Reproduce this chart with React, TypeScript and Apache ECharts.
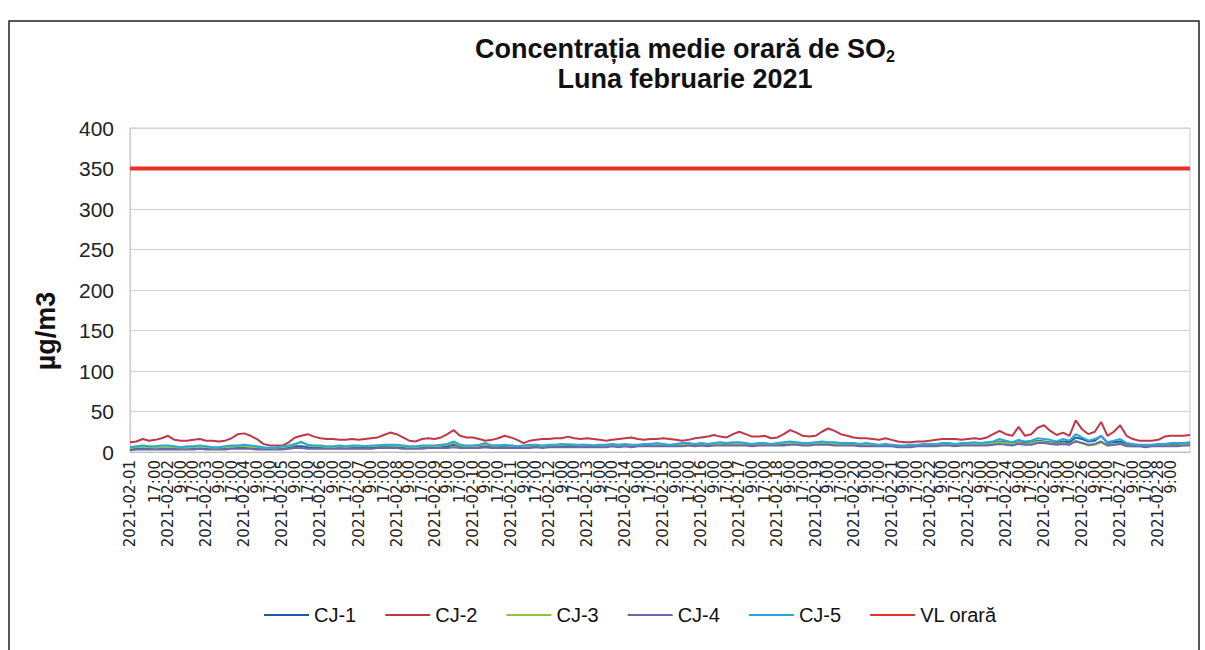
import React, { useEffect, useRef } from "react";
import * as echarts from "echarts";

// Time points: 28 days x 6 readings (every 4 hours)
const DAY_COUNT = 28;
const HOURS = ["1:00", "5:00", "9:00", "13:00", "17:00", "21:00"];
const VL_ORARA = 350;

// CJ-2 (µg/m3)
const CJ2 = [
  12, 13, 16, 14, 15, 17,
  20, 15, 14, 14, 15, 16,
  14, 14, 13, 14, 17, 22,
  23, 20, 16, 10, 8, 8,
  8, 12, 18, 20, 22, 19,
  17, 16, 16, 15, 15, 16,
  15, 16, 17, 18, 21, 24,
  22, 18, 14, 13, 16, 17,
  16, 18, 22, 27, 20, 18,
  18, 16, 14, 15, 17, 20,
  18, 15, 11, 14, 15, 16,
  16, 17, 17, 19, 17, 16,
  17, 16, 15, 14, 15, 16,
  17, 18, 16, 15, 16, 16,
  17, 16, 15, 14, 15, 17,
  18, 19, 21, 19, 18, 22,
  25, 22, 19, 19, 20, 17,
  18, 22, 27, 24, 20, 19,
  20, 25, 29, 26, 22, 20,
  18, 17, 17, 16, 15, 17,
  15, 13, 12, 12, 13, 13,
  14, 15, 16, 16, 16, 15,
  16, 17, 16, 18, 22, 26,
  22, 20, 31, 20, 22, 30,
  33, 26, 21, 24, 20, 39,
  28, 22, 25, 37, 20, 25,
  33, 20, 16, 14, 14, 14,
  15, 19, 20, 20, 20, 21,
];

// CJ-5
const CJ5 = [
  6, 7, 8, 7, 7, 8,
  8, 7, 6, 7, 7, 8,
  7, 6, 6, 7, 8, 8,
  9, 8, 7, 6, 5, 6,
  7, 8, 10, 12, 9, 8,
  8, 7, 7, 8, 7, 8,
  8, 7, 8, 8, 9, 9,
  9, 8, 7, 7, 8, 8,
  8, 9, 10, 13, 9, 8,
  8, 9, 11, 8, 8, 9,
  8, 7, 8, 9, 9, 8,
  9, 9, 10, 9, 9, 9,
  9, 8, 9, 9, 10, 9,
  10, 9, 9, 10, 10, 11,
  10, 9, 10, 11, 11, 10,
  11, 10, 11, 12, 11, 12,
  12, 11, 10, 11, 11, 10,
  11, 12, 13, 12, 11, 11,
  12, 13, 12, 12, 11, 11,
  11, 10, 11, 10, 9, 10,
  9, 8, 8, 9, 9, 10,
  10, 10, 11, 11, 10, 11,
  11, 12, 11, 12, 13, 16,
  14, 12, 15, 13, 14, 17,
  16, 15, 13, 16, 14, 22,
  18, 14, 16, 20, 12, 14,
  16, 11, 10, 9, 9, 9,
  10, 10, 11, 11, 11, 12,
];

// CJ-1
const CJ1 = [
  3, 4, 5, 5, 4, 5,
  5, 4, 4, 5, 5, 5,
  4, 4, 5, 5, 6, 6,
  6, 5, 5, 4, 4, 4,
  5, 6, 7, 7, 6, 6,
  5, 5, 5, 6, 5, 6,
  6, 5, 6, 6, 7, 6,
  6, 6, 5, 5, 6, 6,
  6, 6, 7, 9, 7, 6,
  6, 6, 7, 6, 6, 7,
  6, 5, 6, 6, 7, 6,
  7, 7, 7, 7, 7, 8,
  7, 7, 8, 8, 8, 8,
  8, 8, 8, 9, 9, 9,
  9, 8, 9, 9, 10, 9,
  9, 9, 10, 10, 10, 11,
  10, 10, 9, 10, 10, 9,
  10, 10, 11, 11, 10, 10,
  10, 11, 11, 10, 10, 9,
  9, 9, 9, 9, 8, 8,
  8, 7, 7, 7, 8, 8,
  8, 9, 9, 9, 9, 9,
  9, 9, 9, 10, 11, 13,
  12, 10, 12, 11, 12, 14,
  13, 12, 11, 13, 12, 18,
  16, 13, 14, 20, 11, 12,
  13, 9, 8, 8, 8, 8,
  8, 8, 9, 9, 9, 10,
];

// CJ-3
const CJ3 = [
  5, 6, 6, 6, 5, 6,
  6, 6, 5, 5, 6, 6,
  6, 5, 5, 6, 6, 7,
  7, 6, 6, 5, 5, 5,
  6, 7, 9, 13, 8, 7,
  7, 6, 6, 7, 6, 7,
  7, 7, 7, 8, 8, 8,
  8, 7, 6, 6, 7, 7,
  7, 8, 9, 11, 8, 7,
  7, 8, 9, 8, 8, 8,
  8, 7, 7, 8, 8, 7,
  8, 8, 9, 10, 9, 8,
  8, 8, 8, 8, 9, 8,
  9, 8, 8, 9, 9, 9,
  9, 8, 9, 9, 9, 9,
  9, 9, 10, 10, 9, 10,
  10, 10, 9, 10, 10, 9,
  10, 11, 11, 10, 10, 10,
  10, 11, 11, 10, 10, 10,
  9, 9, 9, 9, 8, 9,
  8, 8, 7, 8, 8, 8,
  9, 9, 9, 9, 9, 9,
  9, 10, 9, 10, 11, 12,
  11, 10, 11, 10, 11, 13,
  12, 11, 10, 11, 9, 14,
  11, 8, 9, 12, 8, 9,
  10, 8, 7, 7, 7, 8,
  8, 8, 8, 8, 9, 9,
];

// CJ-4
const CJ4 = [
  2, 3, 3, 3, 3, 3,
  3, 3, 3, 3, 3, 4,
  3, 3, 3, 3, 4, 4,
  4, 4, 3, 3, 3, 3,
  3, 4, 5, 5, 4, 4,
  4, 4, 4, 4, 4, 4,
  4, 4, 4, 5, 5, 5,
  5, 4, 4, 4, 4, 5,
  5, 5, 5, 6, 5, 5,
  5, 5, 6, 5, 5, 5,
  5, 5, 5, 5, 6, 5,
  6, 6, 6, 6, 6, 6,
  6, 6, 6, 6, 7, 6,
  7, 6, 7, 7, 7, 7,
  7, 7, 7, 7, 8, 7,
  8, 7, 8, 8, 8, 8,
  8, 8, 7, 8, 8, 8,
  8, 8, 9, 9, 8, 8,
  9, 9, 9, 8, 8, 8,
  8, 7, 7, 7, 7, 7,
  7, 6, 6, 6, 7, 7,
  7, 7, 8, 8, 7, 8,
  8, 8, 8, 8, 9, 10,
  9, 8, 10, 9, 9, 11,
  11, 10, 9, 10, 9, 13,
  11, 9, 10, 13, 8, 9,
  10, 7, 7, 7, 6, 7,
  7, 7, 7, 7, 8, 8,
];

const FONT = "'Liberation Sans', Arial, sans-serif";
const LABEL_FONT = "'DejaVu Sans', 'Liberation Sans', sans-serif";

export default function App() {
  const ref = useRef<HTMLDivElement>(null);

  useEffect(() => {
    if (!ref.current) return;
    const chart = echarts.init(ref.current, undefined, { renderer: "svg" });

    const categories: string[] = [];
    for (let d = 1; d <= DAY_COUNT; d++) {
      const date = `2021-02-${String(d).padStart(2, "0")}`;
      HOURS.forEach((h) => categories.push(h === "1:00" ? date : h));
    }

    const mk = (name: string, data: number[], color: string, width: number) => ({
      name,
      type: "line",
      data,
      symbol: "none",
      showSymbol: false,
      lineStyle: { color, width },
      itemStyle: { color },
    });

    chart.setOption({
      animation: false,
      backgroundColor: "#ffffff",
      textStyle: { fontFamily: FONT },
      title: {
        left: 680,
        top: 29,
        textAlign: "center",
        text: "{a|Concentrația medie orară de SO}{b|2}\n{a|Luna februarie 2021}",
        textStyle: {
          rich: {
            a: { fontSize: 27, fontWeight: "bold", color: "#111", lineHeight: 30, fontFamily: FONT },
            b: { fontSize: 16, fontWeight: "bold", color: "#111", lineHeight: 16, verticalAlign: "bottom", fontFamily: FONT },
          },
        },
      },
      graphic: [
        {
          type: "rect",
          shape: { x: 9, y: 21, width: 1190, height: 660 },
          style: { fill: "none", stroke: "#222", lineWidth: 1.5 },
          silent: true,
        },
        {
          type: "text",
          x: 46,
          y: 331,
          rotation: Math.PI / 2,
          style: {
            text: "µg/m3",
            fontSize: 27,
            fontWeight: "bold",
            fill: "#111",
            fontFamily: FONT,
            align: "center",
            verticalAlign: "middle",
          },
          silent: true,
        },
      ],
      legend: {
        left: 258,
        top: 600,
        itemWidth: 45,
        itemHeight: 14,
        itemGap: 28,
        itemStyle: { opacity: 0 },
        textStyle: { fontSize: 20, color: "#111", fontFamily: FONT },
        data: ["CJ-1", "CJ-2", "CJ-3", "CJ-4", "CJ-5", "VL orară"],
      },
      grid: { left: 130, right: 15, top: 128, bottom: 198, show: true, borderColor: "#c8c8c8", borderWidth: 1 },
      xAxis: {
        type: "category",
        data: categories,
        boundaryGap: false,
        axisLine: { lineStyle: { color: "#bdbdbd" } },
        axisTick: { show: false },
        axisLabel: {
          rotate: 90,
          interval: 1,
          showMinLabel: true,
          fontSize: 15,
          color: "#222",
          margin: 8,
          fontFamily: LABEL_FONT,
        },
        splitLine: { show: false },
      },
      yAxis: {
        type: "value",
        min: 0,
        max: 400,
        interval: 50,
        axisLine: { show: true, lineStyle: { color: "#c8c8c8" } },
        axisTick: { show: false },
        axisLabel: { fontSize: 21, color: "#222", margin: 16, fontFamily: FONT },
        splitLine: { lineStyle: { color: "#d4d4d4" } },
      },
      series: [
        mk("CJ-1", CJ1, "#1f5b9e", 2),
        mk("CJ-2", CJ2, "#c0374a", 2),
        mk("CJ-3", CJ3, "#8cc63e", 2),
        mk("CJ-4", CJ4, "#6b68a8", 2),
        mk("CJ-5", CJ5, "#2ba6dc", 2),
        mk("VL orară", categories.map(() => VL_ORARA), "#e8312a", 4),
      ],
    });

    return () => chart.dispose();
  }, []);

  return (
    <div
      ref={ref}
      style={{ position: "fixed", left: 0, top: 0, width: 1205, height: 650 }}
    />
  );
}
